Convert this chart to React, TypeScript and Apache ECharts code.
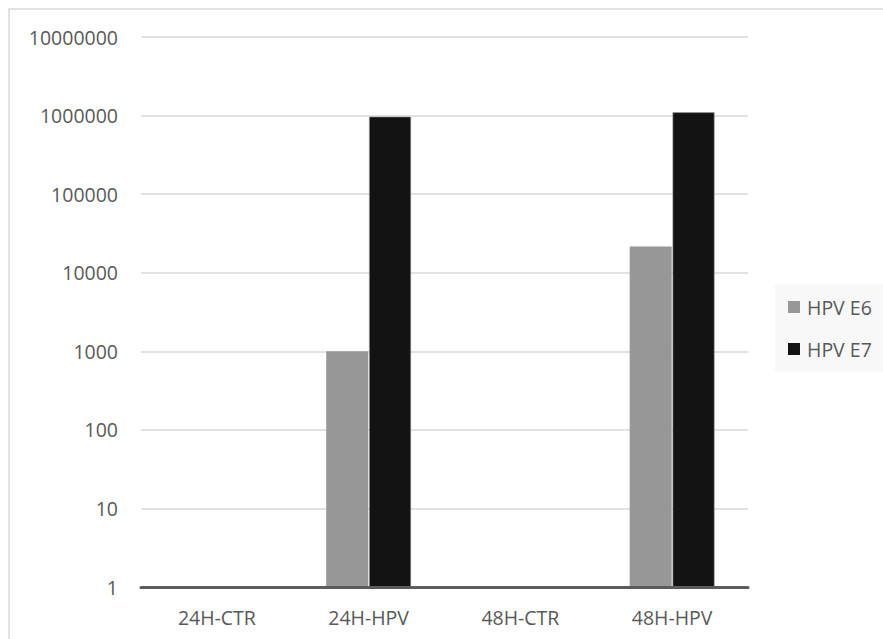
import React, { useEffect, useRef } from "react";
import * as echarts from "echarts";

const categories = ["24H-CTR", "24H-HPV", "48H-CTR", "48H-HPV"];
const seriesNames = ["HPV E6", "HPV E7"];
const e6Values = [1, 1000, 1, 21500];
const e7Values = [1, 970000, 1, 1100000];
const seriesColors = ["#979797", "#131313"];

export default function App() {
  const ref = useRef<HTMLDivElement>(null);
  useEffect(() => {
    if (!ref.current) return;
    const chart = echarts.init(ref.current, undefined, { renderer: "svg" });
    const font = "'Open Sans', sans-serif";
    const textColor = "#595959";
    chart.setOption({
      animation: false,
      backgroundColor: "#ffffff",
      graphic: [
        {
          type: "rect",
          shape: { x: 9, y: 9, width: 900, height: 700 },
          style: { fill: "none", stroke: "#d9d9d9", lineWidth: 1.5 },
          silent: true,
        },
      ],
      grid: { left: 141, right: 135, top: 37, bottom: 52, containLabel: false },
      legend: {
        data: seriesNames,
        orient: "vertical",
        left: 775,
        top: 284,
        padding: [13, 11, 13, 13],
        backgroundColor: "#f8f8f8",
        itemWidth: 12,
        itemHeight: 12,
        itemGap: 22,
        icon: "rect",
        itemStyle: { borderWidth: 0 },
        textStyle: {
          color: textColor,
          fontFamily: font,
          fontSize: 19.5,
          lineHeight: 20,
          padding: [0, 0, 0, 2],
        },
      },
      xAxis: {
        type: "category",
        data: categories,
        axisTick: { show: false },
        axisLine: { show: true, lineStyle: { color: "#5c5c5c", width: 3 } },
        axisLabel: {
          color: textColor,
          fontFamily: font,
          fontSize: 19.5,
          margin: 20,
        },
        z: 5,
      },
      yAxis: {
        type: "log",
        logBase: 10,
        min: 1,
        max: 10000000,
        splitNumber: 7,
        axisLine: { show: false },
        axisTick: { show: false },
        splitLine: { show: true, lineStyle: { color: "#d9d9d9", width: 1.5 } },
        axisLabel: {
          color: textColor,
          fontFamily: font,
          fontSize: 19.5,
          margin: 23,
          formatter: (v: number) => String(Math.round(v)),
        },
      },
      series: [
        {
          name: seriesNames[0],
          type: "bar",
          data: e6Values,
          barWidth: 42,
          barGap: "2%",
          itemStyle: { color: seriesColors[0] },
        },
        {
          name: seriesNames[1],
          type: "bar",
          data: e7Values,
          barWidth: 42,
          barGap: "2%",
          itemStyle: { color: seriesColors[1], borderColor: "#9a9a9a", borderWidth: 0.6 },
        },
      ],
    });
    return () => chart.dispose();
  }, []);
  return (
    <div
      ref={ref}
      style={{ position: "fixed", left: 0, top: 0, width: 883, height: 639 }}
    />
  );
}
